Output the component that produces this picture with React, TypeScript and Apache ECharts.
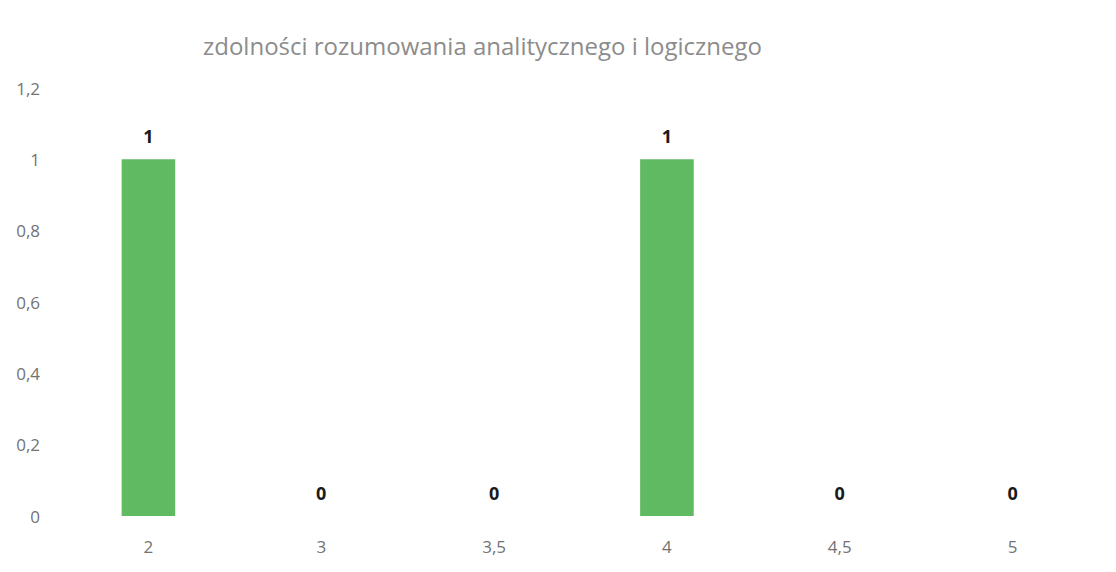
import React, { useEffect, useRef } from "react";
import * as echarts from "echarts";

const titleText = "zdolności rozumowania analitycznego i logicznego";
const categories = ["2", "3", "3,5", "4", "4,5", "5"];
const values = [1, 0, 0, 1, 0, 0];

export default function App() {
  const ref = useRef<HTMLDivElement>(null);
  useEffect(() => {
    if (!ref.current) return;
    const chart = echarts.init(ref.current, undefined, { renderer: "svg" });
    chart.setOption({
      animation: false,
      backgroundColor: "#ffffff",
      title: {
        text: titleText,
        left: 198,
        top: 28,
        textStyle: { color: "#8c8c8c", fontSize: 24, fontWeight: "normal", fontFamily: "Open Sans" },
      },
      grid: { left: 62, right: 17, top: 88, bottom: 56 },
      xAxis: {
        type: "category",
        data: categories,
        axisLine: { show: false },
        axisTick: { show: false },
        axisLabel: { color: "#737373", fontSize: 17, fontFamily: "Open Sans", margin: 22 },
      },
      yAxis: {
        type: "value",
        min: 0,
        max: 1.2,
        interval: 0.2,
        splitLine: { show: false },
        axisLabel: {
          color: "#737373",
          fontSize: 17,
          fontFamily: "Open Sans",
          margin: 22,
          formatter: (v: number) => String(Math.round(v * 10) / 10).replace(".", ","),
        },
      },
      series: [
        {
          type: "bar",
          data: values,
          barWidth: "31%",
          itemStyle: { color: "#5fba62" },
          label: {
            show: true,
            position: "top",
            distance: 14,
            color: "#1a1a1a",
            fontWeight: "bold",
            fontSize: 18,
            fontFamily: "Open Sans",
          },
        },
      ],
    });
    return () => chart.dispose();
  }, []);
  return <div ref={ref} style={{ position: "fixed", left: 0, top: 0, width: 1116, height: 572 }} />;
}
